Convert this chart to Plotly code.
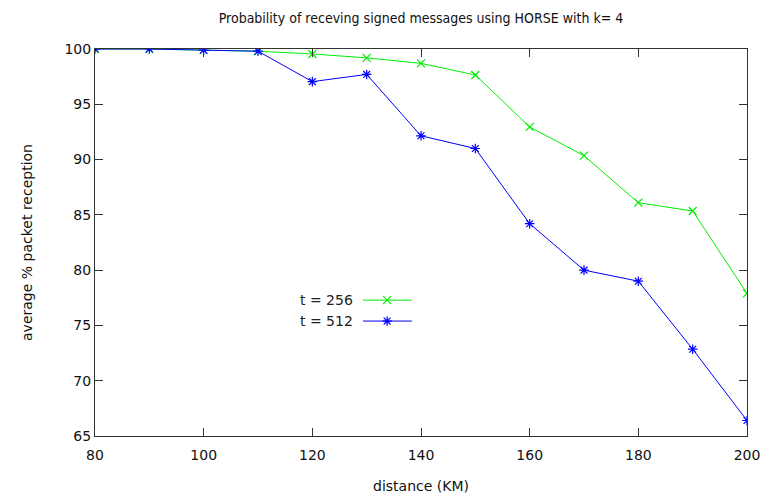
import plotly.graph_objects as go

distance = [80, 90, 100, 110, 120, 130, 140, 150, 160, 170, 180, 190, 200]
t256 = [100, 100, 99.9, 99.8, 99.55, 99.2, 98.7, 97.65, 92.95, 90.35, 86.1, 85.35, 77.9]
t512 = [100, 100, 99.9, 99.8, 97.05, 97.7, 92.15, 91.0, 84.2, 80.0, 79.0, 72.85, 66.4]
series_names = ["t = 256", "t = 512"]
colors = ["#00ee00", "#0000ff"]
symbols = ["x-thin-open", "asterisk-open"]

x_ticks = [80, 100, 120, 140, 160, 180, 200]
y_ticks = [65, 70, 75, 80, 85, 90, 95, 100]

fig = go.Figure()
for vals, name, col, sym in zip([t256, t512], series_names, colors, symbols):
    fig.add_trace(go.Scatter(
        x=distance, y=vals, mode="lines+markers", name=name,
        line=dict(color=col, width=1),
        marker=dict(symbol=sym, size=8, color=col, line=dict(color=col, width=1.2)),
        showlegend=False,
    ))

# custom gnuplot-style key (text left, sample right) on an overlay axis
key_y = [0.351, 0.297]
for ky, name, col, sym in zip(key_y, series_names, colors, symbols):
    fig.add_trace(go.Scatter(
        x=[0.411, 0.448, 0.486], y=[ky, ky, ky], xaxis="x2", yaxis="y2",
        mode="lines", line=dict(color=col, width=1), showlegend=False, hoverinfo="skip",
    ))
    fig.add_trace(go.Scatter(
        x=[0.448], y=[ky], xaxis="x2", yaxis="y2", mode="markers",
        marker=dict(symbol=sym, size=8, color=col, line=dict(color=col, width=1.2)),
        showlegend=False, hoverinfo="skip",
    ))
    fig.add_annotation(x=0.399, y=ky, xref="x2", yref="y2", text=name,
                       showarrow=False, xanchor="right", yanchor="middle",
                       font=dict(size=14, color="#222"))

axis_common = dict(
    showline=True, linecolor="#333", linewidth=1, mirror="ticks",
    ticks="inside", ticklen=8, tickcolor="#333", tickwidth=1,
    showgrid=False, zeroline=False, automargin=False,
    tickfont=dict(family="DejaVu Sans", size=14, color="#111"),
)

fig.update_layout(
    width=766, height=497,
    margin=dict(l=95, r=19, t=49, b=61),
    paper_bgcolor="white", plot_bgcolor="white",
    font=dict(family="DejaVu Sans", size=14, color="#111"),
    title=dict(text="Probability of receving signed messages using HORSE with k= 4",
               x=(95 + 747) / 2 / 766, xanchor="center", y=0.963, yanchor="middle",
               font=dict(family="DejaVu Sans Condensed, DejaVu Sans", size=14, color="#111")),
    xaxis=dict(range=[80, 200], tickvals=x_ticks, ticklabelstandoff=6,
               title=dict(text="distance (KM)", standoff=19, font=dict(size=14)),
               **axis_common),
    yaxis=dict(range=[65, 100], tickvals=y_ticks,
               title=dict(text="average % packet reception", standoff=28, font=dict(size=14)),
               **axis_common),
    xaxis2=dict(range=[0, 1], overlaying="x", visible=False, anchor="y2"),
    yaxis2=dict(range=[0, 1], overlaying="y", visible=False, anchor="x2"),
)

fig.write_html("out.html")
